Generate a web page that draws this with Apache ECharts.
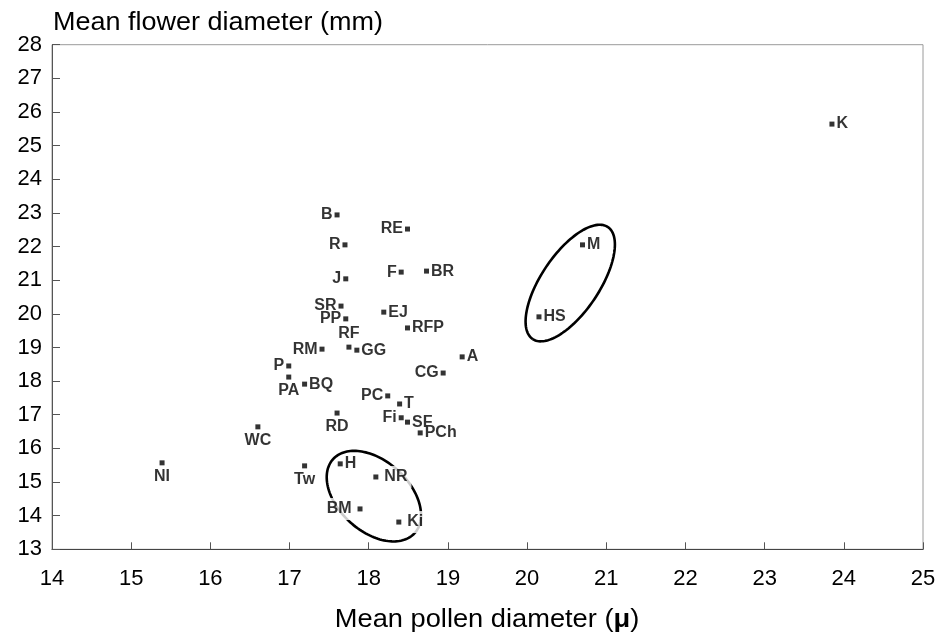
<!DOCTYPE html>
<html><head><meta charset="utf-8">
<script src="https://cdn.jsdelivr.net/npm/echarts@6/dist/echarts.min.js"></script>
<style>html,body{margin:0;padding:0;background:#fff}#c{width:951px;height:633px}</style>
</head><body><div id="c"></div>
<script>
// ---- data ----
const names  = ['B','RE','R','J','F','BR','SR','EJ','PP','RFP','RF','GG','RM','A','P','PA','BQ','CG','PC','T','RD','Fi','SF','PCh','WC','H','Tw','NR','BM','Ki','NI','M','HS','K'];
const pollen = [17.60,18.49,17.70,17.71,18.41,18.73,17.65,18.19,17.71,18.49,17.75,17.85,17.41,19.18,16.99,16.99,17.19,18.94,18.24,18.39,17.60,18.41,18.49,18.65,16.60,17.64,17.19,18.09,17.89,18.38,15.39,20.70,20.15,23.85];
const flower = [22.94,22.52,22.05,21.04,21.24,21.27,20.23,20.05,19.85,19.58,19.01,18.92,18.95,18.72,18.45,18.12,17.91,18.24,17.56,17.32,17.05,16.91,16.78,16.46,16.64,15.54,15.48,15.15,14.20,13.81,15.57,22.05,19.91,25.64];
const xTicks = [14,15,16,17,18,19,20,21,22,23,24,25];
const yTicks = [13,14,15,16,17,18,19,20,21,22,23,24,25,26,27,28];
// groups circled in the figure: ends of the long axis (data units) and width ratio
const groupA = {p1:[21.02,22.58], p2:[20.07,19.25], ratio:0.43};
const groupB = {p1:[17.55,15.68], p2:[18.58,13.48], ratio:0.64};

// ---- label placement (style) ----
const labelPos = {B:'left',RE:'left',R:'left',J:'left',F:'left',BR:'right',SR:'left',EJ:'right',PP:'left',RFP:'right',
  RF:'top',GG:'right',RM:'left',A:'right',P:'left',PA:'bottom',BQ:'right',CG:'left',PC:'left',T:'right',RD:'bottom',
  Fi:'left',SF:'right',PCh:'right',WC:'bottom',H:'right',Tw:'bottom',NR:'right',BM:'left',Ki:'right',NI:'bottom',
  M:'right',HS:'right',K:'right'};
const gapLabels = {NR:true, BM:true, Ki:true};

const pts = names.map((n,i)=>{
  const pos = labelPos[n];
  const lab = {position:pos, distance: (pos==='bottom'||pos==='top')?3:2};
  if (gapLabels[n]) { lab.backgroundColor='#fff'; lab.padding=[3,4]; }
  return {name:n, value:[pollen[i], flower[i]], label:lab};
});

function ellipseSeries(g){
  return {
    type:'custom', coordinateSystem:'cartesian2d', silent:true, z:1,
    data:[[g.p1[0],g.p1[1],g.p2[0],g.p2[1]]],
    encode:{x:[0,2], y:[1,3]},
    renderItem:function(params, api){
      const a = api.coord([api.value(0), api.value(1)]);
      const b = api.coord([api.value(2), api.value(3)]);
      const cx=(a[0]+b[0])/2, cy=(a[1]+b[1])/2;
      const dx=(b[0]-a[0])/2, dy=(b[1]-a[1])/2;
      const A=Math.hypot(dx,dy), ux=dx/A, uy=dy/A, B=A*g.ratio;
      const P=[];
      for(let i=0;i<=144;i++){
        const t=i/144*2*Math.PI;
        P.push([cx + A*Math.cos(t)*ux - B*Math.sin(t)*uy, cy + A*Math.cos(t)*uy + B*Math.sin(t)*ux]);
      }
      return {type:'polyline', shape:{points:P}, style:{fill:null, stroke:'#000', lineWidth:2.6}};
    }
  };
}

const chart = echarts.init(document.getElementById('c'), null, {renderer:'canvas'});
const FONT = '"Liberation Sans", Arial, Helvetica, sans-serif';
chart.setOption({
  animation:false,
  backgroundColor:'#fff',
  grid:{left:52, right:28, top:44.7, bottom:83.7, show:true, borderColor:'#9a9a9a', borderWidth:1, backgroundColor:'transparent'},
  xAxis:{type:'value', min:xTicks[0], max:xTicks[xTicks.length-1], interval:1,
    axisLine:{show:true, onZero:false, lineStyle:{color:'#444', width:1.2}},
    axisTick:{show:true, inside:true, length:7, lineStyle:{color:'#555'}},
    axisLabel:{margin:19, fontSize:22, color:'#000', fontFamily:FONT},
    splitLine:{show:false}},
  yAxis:{type:'value', min:yTicks[0], max:yTicks[yTicks.length-1], interval:1,
    axisLine:{show:true, onZero:false, lineStyle:{color:'#555', width:1}},
    axisTick:{show:true, inside:true, length:8, lineStyle:{color:'#555'}},
    axisLabel:{margin:10, fontSize:22, color:'#000', fontFamily:FONT},
    splitLine:{show:false}},
  graphic:[
    {type:'text', x:53, y:23, scaleX:1.08, style:{text:'Mean flower diameter (mm)', verticalAlign:'middle', font:'25px '+FONT, fill:'#000'}},
    {type:'text', x:487, y:620, scaleX:1.09, style:{text:'Mean pollen diameter ({b|μ})', align:'center', verticalAlign:'middle',
      font:'25px '+FONT, fill:'#000', rich:{b:{fontWeight:'bold', fontSize:25, fontFamily:FONT, fill:'#000'}}}}
  ],
  series:[
    ellipseSeries(groupA),
    ellipseSeries(groupB),
    {type:'scatter', z:3, symbol:'rect', symbolSize:5, itemStyle:{color:'#000'},
      data:pts,
      label:{show:true, formatter:'{b}', fontSize:16, fontWeight:'bold', color:'#000', fontFamily:FONT}}
  ]
});
</script></body></html>
